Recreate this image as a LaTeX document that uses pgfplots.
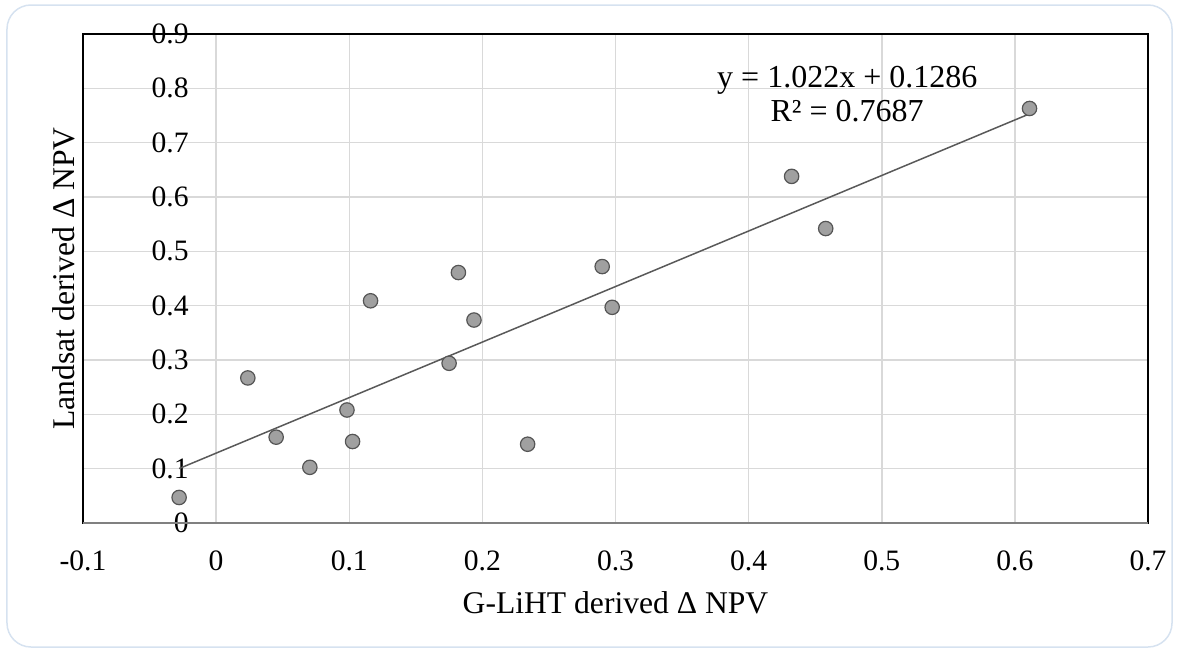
\documentclass[border=0pt]{standalone}
\usepackage{fontspec}
\setmainfont{Liberation Serif}
\usepackage{pgfplots}
\pgfplotsset{compat=1.18}

\definecolor{gridgray}{RGB}{217,217,217}
\definecolor{trendgray}{RGB}{89,89,89}
\definecolor{markfill}{RGB}{160,160,160}
\definecolor{markedge}{RGB}{85,85,85}
\definecolor{frameblue}{RGB}{214,226,240}

\begin{document}
\begin{tikzpicture}
  % page size: 1186x650 px at 2 px per pt
  \path[use as bounding box] (-41.5pt,-63.5pt) rectangle (551.5pt,261.5pt);
  \begin{axis}[
    scale only axis,
    width=532.5pt, height=244.5pt,
    xmin=-0.1, xmax=0.7,
    ymin=0, ymax=0.9,
    xtick={-0.1,0,0.1,0.2,0.3,0.4,0.5,0.6,0.7},
    xticklabels={-0.1,0,0.1,0.2,0.3,0.4,0.5,0.6,0.7},
    ytick={0,0.1,0.2,0.3,0.4,0.5,0.6,0.7,0.8,0.9},
    yticklabels={0,0.1,0.2,0.3,0.4,0.5,0.6,0.7,0.8,0.9},
    major tick length=0pt,
    grid=major,
    major grid style={gridgray, line width=0.75pt},
    axis line style={black, line width=0.6pt},
    ticklabel style={font=\fontsize{14.8}{17}\selectfont, inner sep=0pt},
    xticklabel style={anchor=north, yshift=-13.5pt},
    yticklabel style={anchor=east, xshift=53pt},
    label style={font=\fontsize{15.8}{18}\selectfont},
    xlabel={G-LiHT derived Δ NPV},
    xlabel style={at={(axis description cs:0.5,0)}, anchor=base, yshift=-45pt},
    ylabel={Landsat derived Δ NPV},
    ylabel style={at={(axis description cs:0,0.5)}, anchor=base, yshift=4pt},
  ]
    \draw[gray, line width=0.8pt] (rel axis cs:0,0) -- (rel axis cs:1,0);

    % linear trend y = 1.022x + 0.1286 over the data range
    \addplot[no marks, trendgray, line width=0.75pt]
      coordinates {(-0.0278,0.1002) (0.611,0.7531)};

    \addplot[only marks, mark=*, mark size=3.6pt,
             mark options={fill=markfill, draw=markedge, line width=0.6pt}]
      coordinates {
        (-0.0278,0.047)
        (0.0238,0.267)
        (0.0451,0.158)
        (0.0704,0.1025)
        (0.0983,0.208)
        (0.1025,0.150)
        (0.116,0.409)
        (0.175,0.294)
        (0.182,0.461)
        (0.1937,0.3736)
        (0.234,0.145)
        (0.290,0.472)
        (0.2975,0.397)
        (0.4323,0.638)
        (0.4579,0.542)
        (0.611,0.763)
      };

    \node[anchor=base, font=\fontsize{16}{18}\selectfont, inner sep=0pt]
      at (axis cs:0.4741,0.802) {y = 1.022x + 0.1286};
    \node[anchor=base, font=\fontsize{16}{18}\selectfont, inner sep=0pt]
      at (axis cs:0.474,0.7386) {R² = 0.7687};
  \end{axis}
  \draw[frameblue, line width=0.75pt, rounded corners=12pt]
    (-38pt,-62pt) rectangle (544.5pt,259pt);
\end{tikzpicture}
\end{document}
